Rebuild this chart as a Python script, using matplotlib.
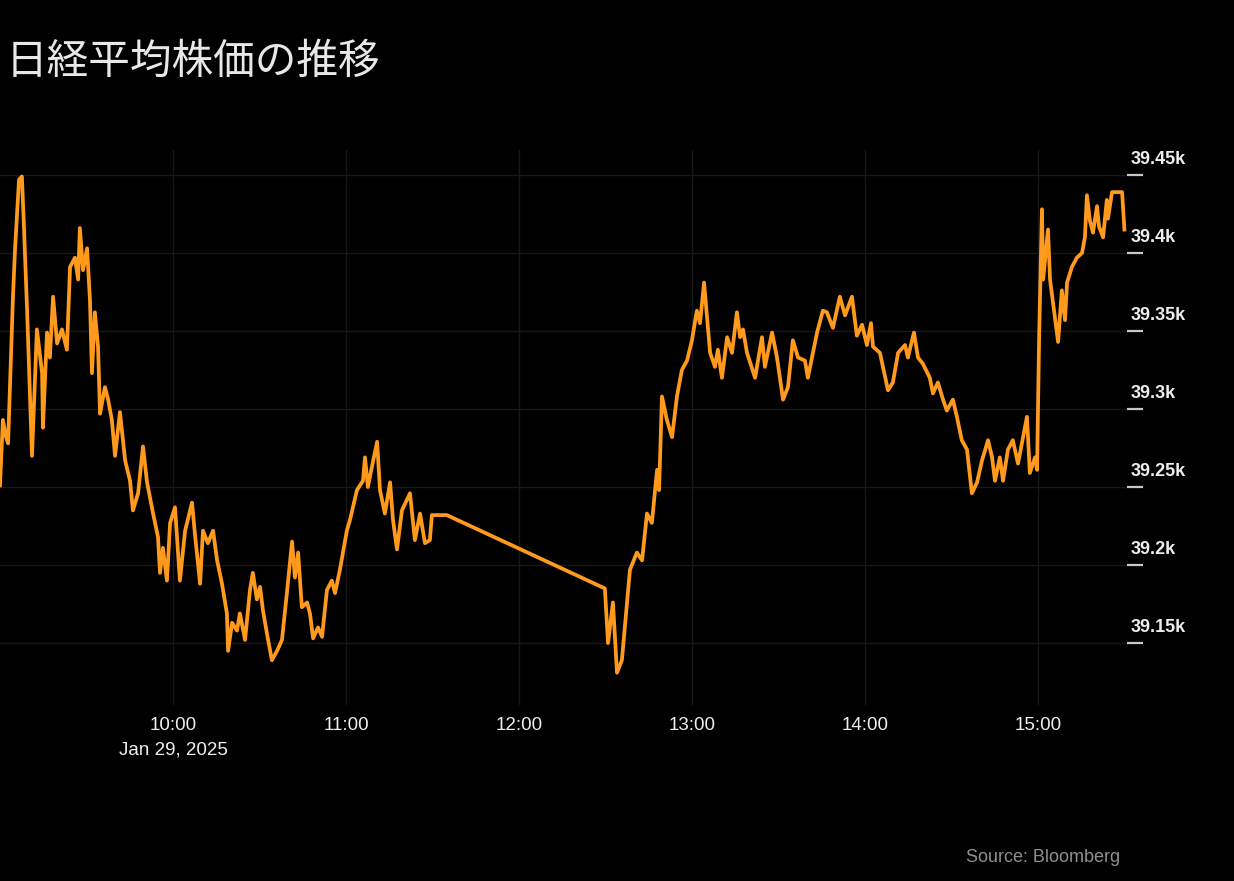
import matplotlib
matplotlib.use("Agg")
import matplotlib.pyplot as plt
import matplotlib.dates as mdates
from matplotlib.transforms import offset_copy
import pandas as pd

# ---- data ----
session_date = "2025-01-29"
minutes_after_open = [
    0, 1.0, 2.1, 2.8, 4.5, 5.2, 6.6, 7.6, 8.3, 9.4, 11.1, 12.8, 14.6, 14.9, 16.3, 17.3, 18.4, 19.8,
    21.5, 23.2, 24.3, 26.0, 27.1, 27.7, 28.8, 30.2, 31.2, 31.9, 32.9, 34.0, 34.7, 36.4, 37.5, 38.8,
    39.9, 41.6, 43.4, 45.1, 46.1, 47.9, 49.6, 51.0, 53.1, 54.8, 55.5, 56.5, 57.9, 59.0, 60.7, 62.4,
    64.2, 66.6, 67.6, 69.4, 70.4, 72.1, 73.9, 75.3, 77.0, 78.7, 79.1, 80.5, 82.2, 83.2, 85.0, 86.7,
    87.7, 89.1, 90.2, 91.2, 92.6, 94.3, 96.1, 97.8, 99.5, 101.3, 102.3, 103.4, 104.7, 106.5, 107.5,
    108.6, 110.3, 111.7, 113.4, 115.1, 116.2, 117.9, 120.3, 121.4, 123.8, 125.9, 126.6, 127.6, 129.0,
    130.8, 131.8, 133.5, 135.3, 136.3, 137.7, 139.4, 142.2, 143.9, 145.7, 147.4, 149.1, 149.8, 155.0,
    209.8, 210.9, 212.6, 214.0, 215.7, 218.5, 220.9, 222.7, 224.4, 226.1, 227.9, 228.6, 229.6, 231.3,
    233.1, 234.8, 236.5, 238.3, 240.0, 241.7, 242.8, 244.2, 246.3, 248.0, 249.0, 250.4, 252.2, 253.9,
    255.6, 256.7, 257.7, 259.1, 261.9, 264.3, 265.3, 267.8, 269.5, 271.6, 273.3, 275.0, 276.8, 279.2,
    280.2, 283.4, 285.4, 286.8, 288.9, 291.3, 293.1, 295.5, 297.2, 299.0, 300.7, 302.1, 302.8, 305.2,
    308.0, 309.7, 311.5, 313.9, 314.9, 317.0, 318.4, 320.1, 322.5, 323.6, 325.3, 327.1, 328.4, 330.5,
    331.9, 333.6, 335.4, 337.1, 338.9, 340.6, 342.7, 344.1, 345.1, 346.8, 347.9, 349.6, 351.3, 353.1,
    356.2, 357.2, 359.0, 359.7, 360.4, 361.4, 361.8, 363.5, 364.2, 365.9, 367.0, 368.3, 369.4, 370.1,
    371.8, 373.5, 375.3, 376.3, 377.0, 378.0, 379.1, 380.5, 381.2, 382.6, 383.9, 384.3, 385.7, 389.2,
    390.0,
]
nikkei = [
    39251, 39293, 39282, 39278, 39372, 39402, 39447, 39449, 39417, 39363, 39270, 39351, 39323, 39288,
    39349, 39333, 39372, 39342, 39351, 39338, 39391, 39397, 39383, 39416, 39389, 39403, 39370, 39323,
    39362, 39340, 39297, 39314, 39306, 39293, 39270, 39298, 39267, 39254, 39235, 39246, 39276, 39253,
    39233, 39218, 39195, 39211, 39190, 39227, 39237, 39190, 39222, 39240, 39220, 39188, 39222, 39214,
    39222, 39203, 39188, 39169, 39145, 39163, 39158, 39169, 39152, 39184, 39195, 39178, 39186, 39171,
    39156, 39139, 39145, 39152, 39182, 39215, 39192, 39208, 39173, 39176, 39169, 39153, 39160, 39154,
    39184, 39190, 39182, 39197, 39222, 39229, 39248, 39254, 39269, 39250, 39263, 39279, 39248, 39233,
    39253, 39229, 39210, 39235, 39246, 39216, 39233, 39214, 39216, 39232, 39232,
    39185, 39150, 39176, 39131, 39139, 39197, 39208, 39203, 39233, 39227, 39261, 39248, 39308, 39293,
    39282, 39308, 39325, 39331, 39344, 39363, 39355, 39381, 39336, 39327, 39338, 39320, 39346, 39336,
    39362, 39346, 39351, 39336, 39320, 39346, 39327, 39349, 39333, 39306, 39314, 39344, 39333, 39331,
    39320, 39349, 39363, 39362, 39352, 39372, 39360, 39372, 39347, 39354, 39341, 39355, 39340, 39336,
    39312, 39317, 39336, 39341, 39333, 39349, 39333, 39329, 39320, 39310, 39317, 39306, 39299, 39306,
    39295, 39280, 39274, 39246, 39253, 39267, 39280, 39269, 39254, 39269, 39254, 39274, 39280, 39265,
    39295, 39259, 39269, 39261, 39344, 39428, 39383, 39415, 39383, 39359, 39343, 39376, 39357, 39381,
    39391, 39397, 39400, 39410, 39437, 39421, 39413, 39430, 39417, 39410, 39434, 39422, 39439, 39439,
    39415,
]
xtick_times = ["10:00", "11:00", "12:00", "13:00", "14:00", "15:00"]
xtick_labels = ["10:00\nJan 29, 2025", "11:00", "12:00", "13:00", "14:00", "15:00"]
ytick_values = [39150, 39200, 39250, 39300, 39350, 39400, 39450]
ytick_labels = ["39.15k", "39.2k", "39.25k", "39.3k", "39.35k", "39.4k", "39.45k"]
title = "日経平均株価の推移"
source = "Source: Bloomberg"

# ---- build ----
t0 = pd.Timestamp(f"{session_date} 09:00")
times = t0 + pd.to_timedelta(minutes_after_open, unit="m")
xticks = [pd.Timestamp(f"{session_date} {t}") for t in xtick_times]

BG = "#000000"
ORANGE = "#ff9a1c"
GRID = "#181818"
TXT = "#eeeeee"
latin = ["Liberation Sans", "DejaVu Sans"]

fig = plt.figure(figsize=(12.34, 8.81), dpi=100, facecolor=BG)
ax = fig.add_axes([0.0, 1 - 705 / 881, 1127 / 1234, (705 - 150) / 881], facecolor=BG)

ax.plot(times, nikkei, color=ORANGE, lw=2.7, solid_joinstyle="round", zorder=3)

ax.set_xlim(t0, t0 + pd.Timedelta(minutes=390.9))
ax.set_ylim(39110.3, 39466)

for s in ax.spines.values():
    s.set_visible(False)

ax.set_xticks(xticks)
ax.set_xticklabels(xtick_labels, fontsize=13.5, color=TXT, family=latin, linespacing=1.55)
ax.tick_params(axis="x", length=0, pad=9)

ax.yaxis.tick_right()
ax.set_yticks(ytick_values)
ax.tick_params(axis="y", which="major", length=11.5, width=1.6, color="#c8c8c8",
               direction="out", labelright=False, labelleft=False)
ax.grid(True, color=GRID, lw=1.0, zorder=0)

trans = offset_copy(ax.get_yaxis_transform(), fig=fig, x=4, y=7, units="dots")
for v, lab in zip(ytick_values, ytick_labels):
    ax.text(1.0, v, lab, transform=trans, ha="left", va="bottom", fontsize=13,
            fontweight="bold", color=TXT, family=latin, clip_on=False)

fig.text(6 / 1234, 1 - 62 / 881, title, fontsize=30, color="#e8e8e8",
         family=["Noto Sans CJK JP", "DejaVu Sans"], ha="left", va="center")
fig.text(1120 / 1234, 1 - 857 / 881, source, fontsize=13, color="#8f8f8f",
         family=latin, ha="right", va="center")

fig.savefig("out.png", dpi=100, facecolor=BG)
